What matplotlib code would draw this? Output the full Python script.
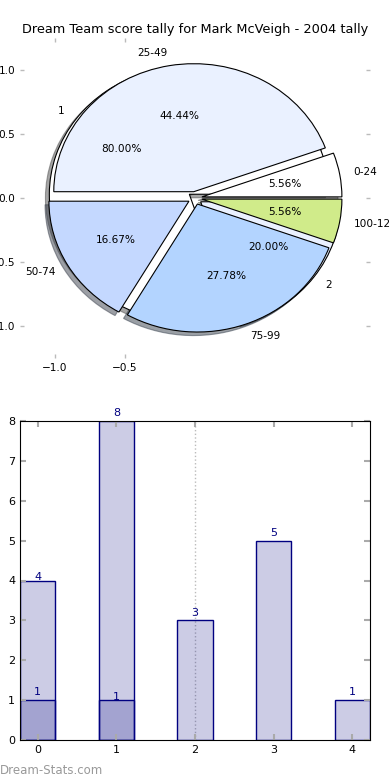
import matplotlib
matplotlib.use('Agg')
import matplotlib.pyplot as plt

# ---- data ----
title = "Dream Team score tally for Mark McVeigh - 2004 tally"
range_labels = ['0-24', '25-49', '50-74', '75-99', '100-124']
range_counts = [1, 8, 3, 5, 1]
split_labels = ['1', '2']
split_counts = [4, 1]

bar_x = [0, 1, 2, 3, 4]
bar_totals = [4, 8, 3, 5, 1]
bar_inner = [1, 1, 0, 0, 0]

pie_xticks = [-1.0, -0.5]
pie_yticks = [-1.0, -0.5, 0.0, 0.5, 1.0]
bar_yticks = [0, 1, 2, 3, 4, 5, 6, 7, 8]

# ---- style ----
range_colors = ['#ffffff', '#eaf1ff', '#c4d8ff', '#b3d4ff', '#d0eb8a']
split_colors = ['#ffffff', '#eaf1ff']
total_lift = [0.0, 0.12, 0.12, 0.12, 0.12]
inner_lift = [0.12, 0.0, 0.0, 0.0, 0.0]

W, H = 390, 780
fig = plt.figure(figsize=(W / 100, H / 100), dpi=100)


def rect(l, t, r, b):
    return [l / W, 1 - b / H, (r - l) / W, (b - t) / H]


# ---- pie ----
ax1 = fig.add_axes(rect(20, 38, 370, 358))
wp = dict(edgecolor='black', linewidth=0.8)
tp = dict(fontsize=7.6)
ax1.pie(split_counts, explode=[0.05] * len(split_counts), labels=split_labels,
        colors=split_colors, autopct='%.2f%%', shadow=True,
        wedgeprops=wp, textprops=tp)
ax1.pie(range_counts, explode=[0.05] * len(range_counts), labels=range_labels,
        colors=range_colors, autopct='%.2f%%', shadow=True,
        wedgeprops=wp, textprops=tp)
ax1.set_aspect('auto')
ax1.set_xlim(-1.25, 1.25)
ax1.set_ylim(-1.25, 1.25)
ax1.set_frame_on(False)
ax1.set_xticks(pie_xticks)
ax1.set_yticks(pie_yticks)
ax1.tick_params(direction='in', length=3, width=1, color='#bbbbbb',
                labelsize=7.6, top=True, right=True)

fig.text(0.5, 1 - 30 / H, title, ha='center', va='center', fontsize=9.3)

# ---- bars ----
ax2 = fig.add_axes(rect(20, 421, 370, 740))
w = 0.45
ax2.axvline(2, color='#bbbbbb', linestyle=':', linewidth=1, zorder=0.5)
ax2.bar(bar_x, bar_totals, width=w, facecolor=(0, 0, 0.5, 0.2),
        edgecolor='navy', linewidth=1)
ix = [x for x, v in zip(bar_x, bar_inner) if v > 0]
iv = [v for v in bar_inner if v > 0]
ax2.bar(ix, iv, width=w, facecolor=(0, 0, 0.5, 0.2), edgecolor='navy',
        linewidth=1)
for x, v, d in zip(bar_x, bar_totals, total_lift):
    ax2.text(x, v + d, str(v), ha='center', va='baseline', color='navy',
             fontsize=8)
for x, v, d in zip(bar_x, bar_inner, inner_lift):
    if v > 0:
        ax2.text(x, v + d, str(v), ha='center', va='baseline', color='navy',
                 fontsize=8)
ax2.set_xlim(-w / 2, bar_x[-1] + w / 2)
ax2.set_ylim(0, 8)
ax2.set_xticks(bar_x)
ax2.set_yticks(bar_yticks)
ax2.tick_params(direction='in', length=4, width=1.5, color='#aaaaaa',
                labelsize=8, top=True, right=True)

fig.text(0.0, 1 - 770 / H, 'Dream-Stats.com', color='#999999', fontsize=8.5,
         ha='left', va='center')

fig.savefig('out.png', dpi=100)
